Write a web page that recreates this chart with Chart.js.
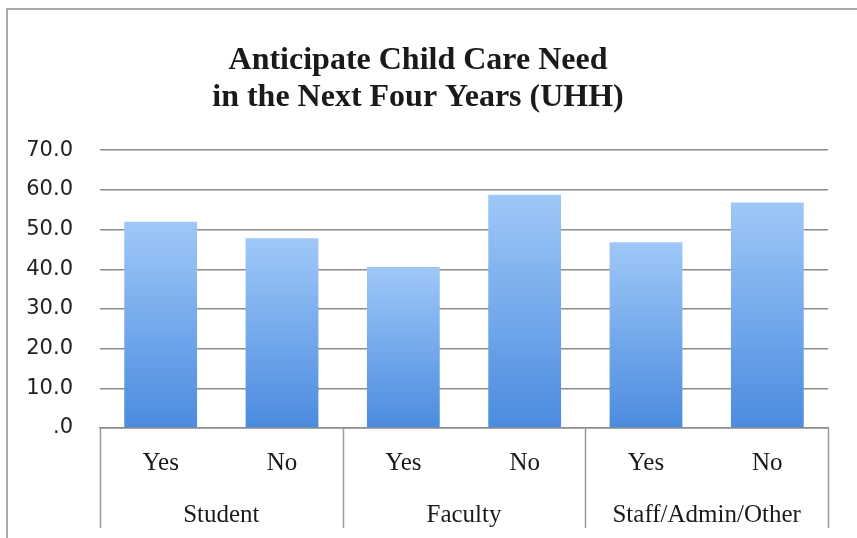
<!DOCTYPE html>
<html>
<head>
<meta charset="utf-8">
<script src="https://cdn.jsdelivr.net/npm/chart.js@4.4.0/dist/chart.umd.min.js"></script>
<style>
  html, body { margin: 0; padding: 0; background: #fff; }
  #wrap { position: relative; width: 857px; height: 538px; }
</style>
</head>
<body>
<div id="wrap"><canvas id="chart" width="857" height="538"></canvas></div>
<script>
// chart data
const answers = ['Yes', 'No', 'Yes', 'No', 'Yes', 'No'];
const groups = ['Student', 'Faculty', 'Staff/Admin/Other'];
const percent = [52.0, 47.8, 40.6, 58.8, 46.8, 56.8];
const yTicks = [0, 10, 20, 30, 40, 50, 60, 70];

const serif = '"Liberation Serif", "Times New Roman", serif';

// light-at-top to dark-at-bottom fill for each bar
function barFill(ctx) {
    const chart = ctx.chart;
    const area = chart.chartArea;
    if (!area || ctx.raw === undefined) return '#7aaef0';
    const yScale = chart.scales.y;
    const top = yScale.getPixelForValue(ctx.raw);
    const bottom = yScale.getPixelForValue(0);
    const g = chart.ctx.createLinearGradient(0, top, 0, bottom);
    g.addColorStop(0, '#9fc8f8');
    g.addColorStop(1, '#4b8bdf');
    return g;
}

// group labels under the Yes/No ticks, with separator lines
const groupAxis = {
    id: 'groupAxis',
    afterDraw(chart) {
        const c = chart.ctx;
        const x = chart.scales.x;
        const area = chart.chartArea;
        const half = (x.getPixelForValue(1) - x.getPixelForValue(0)) / 2;
        c.save();
        c.strokeStyle = '#9a9a9a';
        c.lineWidth = 1.5;
        for (let i = 0; i <= groups.length; i++) {
            const px = Math.round(x.getPixelForValue(i * 2) - half) + 0.5;
            c.beginPath();
            c.moveTo(px, area.bottom);
            c.lineTo(px, area.bottom + 100);
            c.stroke();
        }
        c.fillStyle = '#1a1a1a';
        c.font = '25px ' + serif;
        c.textAlign = 'center';
        c.textBaseline = 'middle';
        groups.forEach((g, i) => {
            const mid = (x.getPixelForValue(i * 2) + x.getPixelForValue(i * 2 + 1)) / 2;
            c.fillText(g, mid, area.bottom + 87);
        });
        c.restore();
    },
    beforeDraw(chart) {
        // faint frame around the picture
        const c = chart.ctx;
        c.save();
        c.strokeStyle = '#a8a8a8';
        c.lineWidth = 2;
        c.beginPath();
        c.moveTo(7, chart.height);
        c.lineTo(7, 9);
        c.lineTo(chart.width, 9);
        c.stroke();
        c.restore();
    }
};

new Chart(document.getElementById('chart'), {
    type: 'bar',
    data: {
        labels: answers,
        datasets: [{
            data: percent,
            backgroundColor: barFill,
            borderWidth: 0,
            categoryPercentage: 1.0,
            barPercentage: 0.6
        }]
    },
    options: {
        responsive: false,
        animation: false,
        layout: { padding: { left: 8, right: 29, top: 12, bottom: 8 } },
        plugins: {
            legend: { display: false },
            tooltip: { enabled: false },
            title: {
                display: true,
                text: ['Anticipate Child Care Need', 'in the Next Four Years (UHH)'],
                color: '#1a1a1a',
                font: { family: serif, size: 32, weight: 'bold', lineHeight: 1.16 },
                padding: { top: 30, bottom: 34 }
            }
        },
        scales: {
            x: {
                grid: { display: false, drawTicks: false },
                border: { display: true, color: '#8c8c8c', width: 1.5 },
                ticks: {
                    color: '#1a1a1a',
                    font: { family: serif, size: 25 },
                    padding: 20,
                    maxRotation: 0
                },
                afterFit(scale) { scale.height = 102; }
            },
            y: {
                min: 0,
                max: 70,
                afterBuildTicks(scale) {
                    scale.ticks = yTicks.map(v => ({ value: v }));
                },
                grid: { color: '#8c8c8c', lineWidth: 1.5, drawTicks: false },
                border: { display: false },
                ticks: {
                    color: '#222',
                    font: { family: '"DejaVu Sans", sans-serif', size: 21 },
                    padding: 27,
                    callback: v => v === 0 ? '.0' : v.toFixed(1)
                },
                afterFit(scale) { scale.width = 92; }
            }
        }
    },
    plugins: [groupAxis]
});
</script>
</body>
</html>
